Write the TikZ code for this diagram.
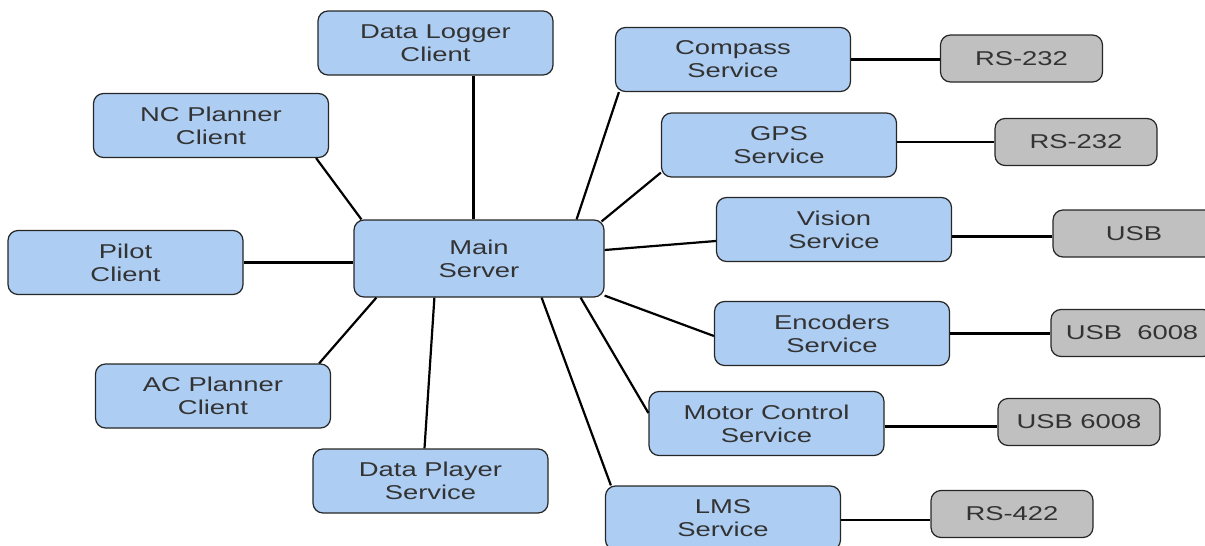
\documentclass[tikz,border=0pt]{standalone}
\usepackage{fontspec}
\setmainfont[FakeStretch=1.37]{Liberation Sans}
\definecolor{svcblue}{RGB}{173,205,243}
\definecolor{portgray}{RGB}{192,192,192}
\tikzset{
    svc/.style={draw=black!85, line width=1.2pt, fill=svcblue, rounded corners=10pt,
        minimum width=235pt, minimum height=64pt, align=center, inner sep=0pt,
        text=black!80, font=\fontsize{20}{23}\selectfont},
    port/.style={svc, fill=portgray, minimum width=162pt, minimum height=47pt},
    link/.style={line width=2.2pt, black}
}
\begin{document}
\begin{tikzpicture}[x=1pt, y=-1pt]
    \useasboundingbox (0, 0) rectangle (1205, 546);
    \clip (0, 0) rectangle (1205, 546);

    \node[svc, minimum width=250pt, minimum height=77pt] (main) at (479, 258.5) {Main\\Server};

    \node[svc] (dlog) at (435.5, 43) {Data Logger\\Client};
    \node[svc] (nc) at (211, 125.5) {NC Planner\\Client};
    \node[svc] (pilot) at (125.5, 262.5) {Pilot\\Client};
    \node[svc] (ac) at (213, 396) {AC Planner\\Client};
    \node[svc] (dplay) at (430.5, 481) {Data Player\\Service};

    \node[svc] (compass) at (733, 59.5) {Compass\\Service};
    \node[svc] (gps) at (779, 145) {GPS\\Service};
    \node[svc] (vision) at (834, 229.5) {Vision\\Service};
    \node[svc] (enc) at (832, 333.5) {Encoders\\Service};
    \node[svc] (motor) at (766.5, 423.5) {Motor Control\\Service};
    \node[svc] (lms) at (723, 518) {LMS\\Service};

    \node[port] (rs1) at (1021.5, 58.5) {RS-232};
    \node[port] (rs2) at (1076, 142) {RS-232};
    \node[port] (usb) at (1134, 233.5) {USB};
    \node[port] (usb1) at (1132, 333) {USB\ \ 6008};
    \node[port] (usb2) at (1079, 422) {USB 6008};
    \node[port] (rs422) at (1012, 514) {RS-422};

    \draw[link] ([xshift=38pt]dlog.south) -- ([xshift=38pt]dlog.south |- main.north);
    \draw[link] ([xshift=-13pt]nc.south east) -- ([xshift=8pt]main.north west);
    \draw[link] (pilot.east) -- (pilot.east -| main.west);
    \draw[link] ([xshift=-12pt]ac.north east) -- ([xshift=23pt]main.south west);
    \draw[link] ([xshift=-6pt]dplay.north) -- ([xshift=81pt]main.south west);

    \draw[link] ([xshift=4pt]compass.south west) -- ([xshift=-28pt]main.north east);
    \draw[link] ([yshift=5pt]gps.south west) -- ([xshift=-3pt, yshift=-2pt]main.north east);
    \draw[link] ([yshift=-11.5pt]vision.west) -- ([yshift=8.5pt]main.east);
    \draw[link] ([yshift=-2.5pt]enc.west) -- ([yshift=2pt]main.south east);
    \draw[link] ([yshift=10.5pt]motor.west) -- ([xshift=-24pt]main.south east);
    \draw[link] ([xshift=6pt]lms.north west) -- ([xshift=-63pt]main.south east);

    \draw[link] (compass.east) -- (compass.east -| rs1.west);
    \draw[link] (rs2.west -| gps.east) -- (rs2.west);
    \draw[link] ([yshift=-7pt]vision.east) -- ([yshift=-7pt]vision.east -| usb.west);
    \draw[link] (enc.east) -- (enc.east -| usb1.west);
    \draw[link] ([yshift=-3pt]motor.east) -- ([yshift=-3pt]motor.east -| usb2.west);
    \draw[link] ([yshift=-2pt]lms.east) -- ([yshift=-2pt]lms.east -| rs422.west);
\end{tikzpicture}
\end{document}
